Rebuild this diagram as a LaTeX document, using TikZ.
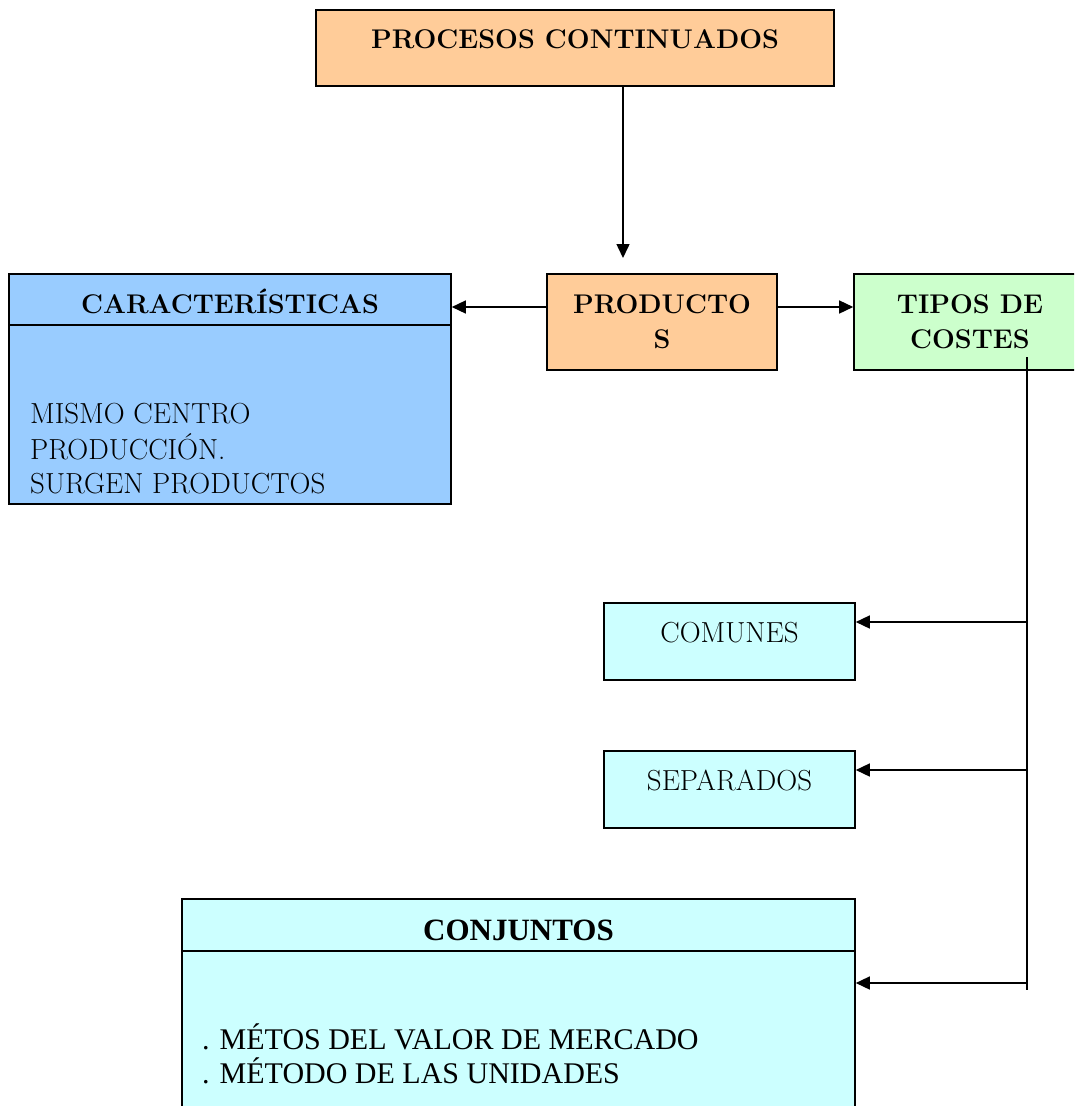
\documentclass[tikz,border=0pt]{standalone}
\usepackage{fontspec}
\usetikzlibrary{arrows.meta}
\newfontfamily\timesfont{Liberation Serif}
\definecolor{peach}{HTML}{FFCC99}
\definecolor{skyblue}{HTML}{99CCFF}
\definecolor{mint}{HTML}{CCFFCC}
\definecolor{paleaqua}{HTML}{CCFFFF}
\begin{document}
\begin{tikzpicture}[x=1pt,y=-1pt,
  box/.style={draw=black,line width=1.6pt,inner sep=0pt,rectangle},
  arr/.style={line width=1.5pt,-{Triangle[length=14pt,width=13pt]}},
  conn/.style={line width=1.5pt},
  ttl/.style={font=\fontsize{27}{35}\selectfont\bfseries,anchor=base,inner sep=0pt},
  txt/.style={font=\fontsize{29}{35}\selectfont,anchor=base,inner sep=0pt},
  ttxt/.style={font=\timesfont\fontsize{30}{34}\selectfont,anchor=base west,inner sep=0pt},
  tttl/.style={font=\timesfont\fontsize{31}{34}\selectfont\bfseries,anchor=base,inner sep=0pt}]
\useasboundingbox (0,0) rectangle (1074,1106);
\clip (0,0) rectangle (1074,1106);

% boxes
\node[box,fill=peach,minimum width=518pt,minimum height=76pt] (proc) at (575,48) {};
\node[box,fill=peach,minimum width=230pt,minimum height=96pt] (prod) at (662,322) {};
\node[box,fill=skyblue,minimum width=442pt,minimum height=230pt] (car) at (230,389) {};
\node[box,fill=mint,minimum width=230pt,minimum height=96pt] (tipos) at (969,322) {};
\node[box,fill=paleaqua,minimum width=251pt,minimum height=77pt] (com) at (729.5,641.5) {};
\node[box,fill=paleaqua,minimum width=251pt,minimum height=77pt] (sep) at (729.5,789.5) {};
\node[box,fill=paleaqua,minimum width=673pt,minimum height=217pt] (conj) at (518.5,1007.5) {};

% header separators
\draw[line width=1.6pt] (car.west |- 0,325) -- (car.east |- 0,325);
\draw[line width=1.6pt] (conj.west |- 0,951) -- (conj.east |- 0,951);

% texts
\node[ttl] (tproc) at (575,48) {PROCESOS CONTINUADOS};
\node[ttl] (tprod1) at (662,313) {PRODUCTO};
\node[ttl] (tprod2) at (662,348) {S};
\node[ttl] (tcar) at (230,313) {CARACTERÍSTICAS};
\node[txt,anchor=base west] (tcar1) at (30,423) {MISMO CENTRO};
\node[txt,anchor=base west] (tcar2) at (30,459) {PRODUCCIÓN.};
\node[txt,anchor=base west] (tcar3) at (30,493) {SURGEN PRODUCTOS};
\node[ttl] (ttip1) at (970,313) {TIPOS DE};
\node[ttl] (ttip2) at (970,348) {COSTES};
\node[txt] (tcom) at (729.5,642) {COMUNES};
\node[txt] (tsep) at (729.5,790) {SEPARADOS};
\node[tttl] (tconj) at (518.5,940) {CONJUNTOS};
\node[ttxt] (tconj1) at (202,1049) {. MÉTOS DEL VALOR DE MERCADO};
\node[ttxt] (tconj2) at (202,1083) {. MÉTODO DE LAS UNIDADES};

% connectors
\coordinate (prodtip) at (623,258);
\draw[arr] (proc.south -| prodtip) -- (prodtip);
\draw[arr] (prod.west |- 0,307) -- (car.east |- 0,307);
\draw[arr] (prod.east |- 0,307) -- (tipos.west |- 0,307);

\coordinate (trunktop) at (1027,357);
\coordinate (trunkbot) at (1027,990);
\draw[conn] (trunktop) -- (trunkbot);
\coordinate (jcom) at (1027,622);
\coordinate (jsep) at (1027,770);
\coordinate (jconj) at (1027,983);
\draw[arr] (jcom) -- (com.east |- jcom);
\draw[arr] (jsep) -- (sep.east |- jsep);
\draw[arr] (jconj) -- (conj.east |- jconj);
\end{tikzpicture}
\end{document}
